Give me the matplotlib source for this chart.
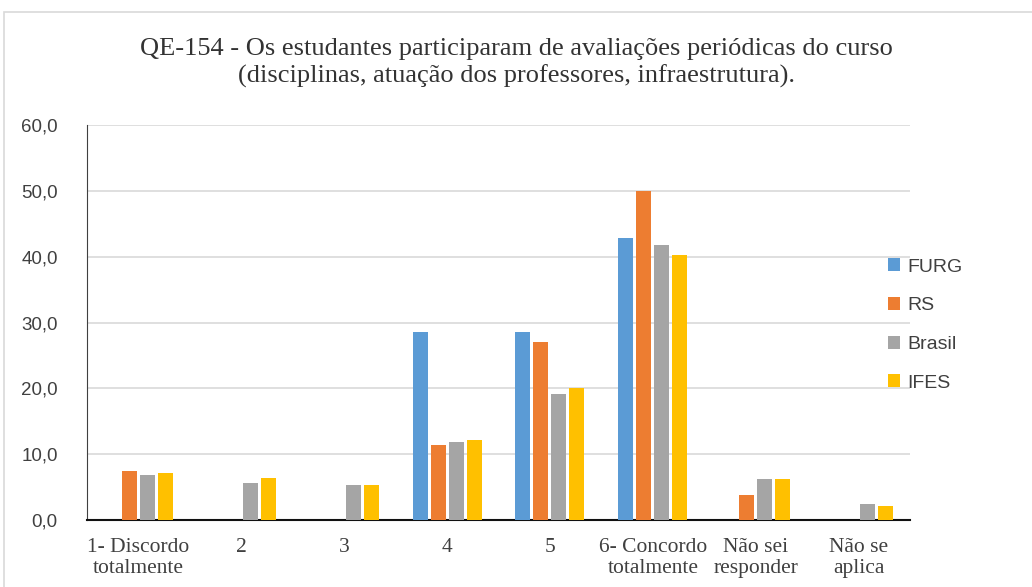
import numpy as np
import matplotlib
matplotlib.use("Agg")
import matplotlib.pyplot as plt
from matplotlib.patches import Rectangle
from matplotlib.ticker import FuncFormatter

categories = ["1- Discordo\ntotalmente", "2", "3", "4", "5",
              "6- Concordo\ntotalmente", "Não sei\nresponder", "Não se\naplica"]
furg = [0, 0, 0, 28.5, 28.5, 42.9, 0, 0]
rs = [7.5, 0, 0, 11.4, 27.0, 50.0, 3.8, 0]
brasil = [6.9, 5.6, 5.3, 11.8, 19.2, 41.8, 6.2, 2.5]
ifes = [7.1, 6.4, 5.3, 12.1, 20.0, 40.2, 6.2, 2.1]

series = {"FURG": furg, "RS": rs, "Brasil": brasil, "IFES": ifes}
colors = ["#5B9BD5", "#ED7D31", "#A5A5A5", "#FFC000"]

fig = plt.figure(figsize=(10.32, 5.87), dpi=100)
fig.patches.append(Rectangle((4 / 1032, -0.1), 1.2, 1 - 12 / 587 + 0.1,
                             transform=fig.transFigure, fill=False,
                             edgecolor="#D9D9D9", linewidth=1.2))
ax = fig.add_axes([87 / 1032, 1 - 520 / 587, 823 / 1032, 395 / 587])

x = np.arange(len(categories))
step = 0.175
width = 0.145
handles = []
for i, (name, vals) in enumerate(series.items()):
    h = ax.bar(x + (i - 1.5) * step, vals, width, color=colors[i], label=name, zorder=3)
    handles.append(h)

ax.set_xlim(-0.5, len(categories) - 0.5)
ax.set_ylim(0, 60)
ax.set_yticks(np.arange(0, 61, 10))
ax.yaxis.set_major_formatter(FuncFormatter(lambda v, p: f"{v:.1f}".replace(".", ",")))
ax.grid(axis="y", color="#D9D9D9", linewidth=1.2, zorder=0)
ax.set_xticks(x)
ax.set_xticklabels(categories, family="Liberation Serif", fontsize=15.5,
                   color="#404040", linespacing=1.12)
for lab in ax.get_yticklabels():
    lab.set_family("Liberation Sans")
    lab.set_fontsize(13.5)
    lab.set_color("#404040")
ax.tick_params(axis="both", length=0)
ax.tick_params(axis="x", pad=13)
ax.tick_params(axis="y", pad=21)
ax.spines["top"].set_visible(False)
ax.spines["right"].set_visible(False)
ax.spines["left"].set_color("#404040")
ax.spines["bottom"].set_color("#111111")
ax.spines["bottom"].set_linewidth(1.5)

fig.text(0.5, 1 - 63 / 587,
         "QE-154 - Os estudantes participaram de avaliações periódicas do curso\n"
         "(disciplinas, atuação dos professores, infraestrutura).",
         ha="center", va="center", family="Liberation Serif", fontsize=19,
         color="#333333", linespacing=1.2)

fig.legend(handles=handles, loc="center left", bbox_to_anchor=(870 / 1032, 1 - 325 / 587),
           frameon=False, handlelength=0.65, handleheight=0.65, handletextpad=0.35,
           labelspacing=1.1, prop={"family": "Liberation Sans", "size": 14},
           labelcolor="#404040")

fig.savefig("out.png", dpi=100)
